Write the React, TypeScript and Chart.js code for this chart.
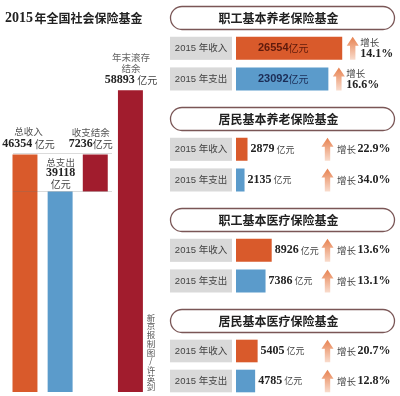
import React, { useEffect, useRef } from 'react';
import { Chart, registerables } from 'chart.js';

Chart.register(...registerables);

// ---------- data ----------
const mainTitleYear = '2015';
const mainTitleText = '年全国社会保险基金';
const leftCategories = ['总收入', '总支出', '收支结余', '年末滚存结余'];
const totalIncome = 46354;
const totalExpense = 39118;
const balance = 7236;
const yearEndBalance = 58893;
const creditText = ['新', '京', '报', '制', '图', '/', '许', '英', '剑'];

const panelTitles = ['职工基本养老保险基金', '居民基本养老保险基金', '职工基本医疗保险基金', '居民基本医疗保险基金'];
const rowLabels = ['2015 年收入', '2015 年支出'];
const panelIncome = [26554, 2879, 8926, 5405];
const panelExpense = [23092, 2135, 7386, 4785];
const incomeGrowth = [14.1, 22.9, 13.6, 20.7];
const expenseGrowth = [16.6, 34.0, 13.1, 12.8];
const unitText = '亿元';
const growthText = '增长';

// ---------- styles ----------
const ORANGE = '#d95a2b';
const BLUE = '#5b9bcb';
const DARK_RED = '#a11c2d';
const CJK = '"Noto Sans CJK SC", sans-serif';
const NUM_FONT = 'bold 12px "Liberation Serif", "DejaVu Serif", serif';

type Part = { text: string; font: string; color: string; gap?: number };

function drawParts(ctx: CanvasRenderingContext2D, parts: Part[], x: number, y: number, align: 'center' | 'left') {
  ctx.save();
  ctx.textBaseline = 'middle';
  ctx.textAlign = 'left';
  let total = 0;
  const widths = parts.map((p) => {
    ctx.font = p.font;
    const w = ctx.measureText(p.text).width + (p.gap || 0);
    total += w;
    return w;
  });
  let cx = align === 'center' ? x - total / 2 : x;
  parts.forEach((p, i) => {
    ctx.font = p.font;
    ctx.fillStyle = p.color;
    ctx.fillText(p.text, cx + (p.gap || 0), y);
    cx += widths[i];
  });
  ctx.restore();
  return total;
}

function drawArrow(ctx: CanvasRenderingContext2D, cx: number, top: number, bottom: number) {
  ctx.save();
  const g = ctx.createLinearGradient(0, top, 0, bottom);
  g.addColorStop(0, '#e7814f');
  g.addColorStop(1, '#f9dccd');
  ctx.fillStyle = g;
  ctx.beginPath();
  ctx.moveTo(cx, top);
  ctx.lineTo(cx + 6, top + 9);
  ctx.lineTo(cx + 2.7, top + 9);
  ctx.lineTo(cx + 2.7, bottom);
  ctx.lineTo(cx - 2.7, bottom);
  ctx.lineTo(cx - 2.7, top + 9);
  ctx.lineTo(cx - 6, top + 9);
  ctx.closePath();
  ctx.fill();
  ctx.restore();
}

const LABEL = `9.5px ${CJK}`;
const UNIT = `10px ${CJK}`;

const leftPlugin = {
  id: 'leftLabels',
  afterDatasetsDraw(chart: any) {
    const ctx: CanvasRenderingContext2D = chart.ctx;
    const ys = chart.scales.y;
    const meta = chart.getDatasetMeta(0);
    const xs = meta.data.map((el: any) => el.x);
    const tops = [
      ys.getPixelForValue(totalIncome),
      ys.getPixelForValue(totalExpense),
      ys.getPixelForValue(totalExpense + balance),
      ys.getPixelForValue(yearEndBalance),
    ];
    // title
    const tw = drawParts(ctx, [{ text: mainTitleYear, font: 'bold 14px "Liberation Serif", serif', color: '#222' }], 5, 18, 'left');
    drawParts(ctx, [{ text: mainTitleText, font: `bold 12px ${CJK}`, color: '#222' }], 5 + tw + 1.5, 18, 'left');

    // faint guide lines
    ctx.save();
    ctx.strokeStyle = 'rgba(110,110,110,0.25)';
    ctx.lineWidth = 1;
    [tops[0], tops[1]].forEach((t) => {
      ctx.beginPath();
      ctx.moveTo(13, Math.round(t) - 0.5);
      ctx.lineTo(112, Math.round(t) - 0.5);
      ctx.stroke();
    });
    ctx.restore();

    const lab = (t: string) => ({ text: t, font: LABEL, color: '#555' });
    const num = (t: string) => ({ text: t, font: NUM_FONT, color: '#222' });
    const unit = (t: string, gap = 0) => ({ text: t, font: UNIT, color: '#444', gap });

    // 总收入
    drawParts(ctx, [lab(leftCategories[0])], xs[0] + 3.5, tops[0] - 23.5, 'center');
    drawParts(ctx, [num(String(totalIncome)), unit(unitText, 2.5)], xs[0] + 3.5, tops[0] - 10.5, 'center');
    // 总支出
    drawParts(ctx, [lab(leftCategories[1])], xs[1] + 0.5, tops[1] - 29.6, 'center');
    drawParts(ctx, [num(String(totalExpense))], xs[1] + 0.5, tops[1] - 18.6, 'center');
    drawParts(ctx, [unit(unitText)], xs[1] + 0.5, tops[1] - 7.6, 'center');
    // 收支结余
    drawParts(ctx, [lab(leftCategories[2])], xs[2] - 4.5, tops[2] - 22.5, 'center');
    drawParts(ctx, [num(String(balance)), unit(unitText)], xs[2] - 4.5, tops[2] - 10.5, 'center');
    // 年末滚存结余
    drawParts(ctx, [{ text: leftCategories[3].slice(0, 4), font: LABEL, color: '#666' }], xs[3] + 0.6, tops[3] - 33, 'center');
    drawParts(ctx, [{ text: leftCategories[3].slice(4), font: LABEL, color: '#666' }], xs[3] + 0.6, tops[3] - 22, 'center');
    drawParts(ctx, [num(String(yearEndBalance)), unit(unitText, 2.5)], xs[3] + 0.6, tops[3] - 10, 'center');

    // credit (vertical)
    creditText.forEach((c, i) => {
      drawParts(ctx, [{ text: c, font: `8.5px ${CJK}`, color: '#555' }], 151, 317.5 + i * 8.7, 'center');
    });
  },
};

function LeftChart() {
  const ref = useRef<HTMLCanvasElement>(null);
  useEffect(() => {
    const chart = new Chart(ref.current as HTMLCanvasElement, {
      type: 'bar',
      data: {
        labels: leftCategories,
        datasets: [
          {
            data: [
              [0, totalIncome],
              [0, totalExpense],
              [totalExpense, totalExpense + balance],
              [0, yearEndBalance],
            ] as any,
            backgroundColor: [ORANGE, BLUE, DARK_RED, DARK_RED],
            barPercentage: 0.71,
            categoryPercentage: 1,
          },
        ],
      },
      options: {
        responsive: false,
        animation: false,
        layout: { padding: { left: 7.4, right: 12, top: 0, bottom: 4 } },
        scales: {
          x: { display: false },
          y: { display: false, min: 0, max: 76500 },
        },
        plugins: { legend: { display: false }, tooltip: { enabled: false }, title: { display: false } },
      },
      plugins: [leftPlugin],
    });
    return () => chart.destroy();
  }, []);
  return <canvas ref={ref} width={160} height={396} style={{ position: 'absolute', left: 0, top: 0, width: 160, height: 396 }} />;
}

function makePanelPlugin(index: number) {
  return {
    id: 'panel' + index,
    beforeDatasetsDraw(chart: any) {
      const ctx: CanvasRenderingContext2D = chart.ctx;
      const meta = chart.getDatasetMeta(0);
      // title box
      ctx.save();
      ctx.fillStyle = '#fff';
      ctx.strokeStyle = '#7a5656';
      ctx.lineWidth = 1.3;
      ctx.beginPath();
      (ctx as any).roundRect(10.5, 6.5, 224, 23, 11.5);
      ctx.fill();
      ctx.stroke();
      ctx.restore();
      drawParts(ctx, [{ text: panelTitles[index], font: `bold 12px ${CJK}`, color: '#222' }], 118.5, 18, 'center');
      // gray label boxes
      meta.data.forEach((el: any, i: number) => {
        const top = el.y - el.height / 2;
        ctx.save();
        ctx.fillStyle = '#d9d9d9';
        ctx.fillRect(10, top, 62, el.height);
        ctx.restore();
        drawParts(ctx, [{ text: rowLabels[i], font: `9.5px "Liberation Sans", ${CJK}`, color: '#444' }], 41, el.y, 'center');
      });
    },
    afterDatasetsDraw(chart: any) {
      const ctx: CanvasRenderingContext2D = chart.ctx;
      const meta = chart.getDatasetMeta(0);
      const values = [panelIncome[index], panelExpense[index]];
      const growth = [incomeGrowth[index], expenseGrowth[index]];
      meta.data.forEach((el: any, i: number) => {
        const top = el.y - el.height / 2;
        const bottom = el.y + el.height / 2;
        const end = el.x;
        if (index === 0) {
          const col = i === 0 ? '#5e1a0c' : '#1b2c55';
          drawParts(ctx, [
            { text: String(values[i]), font: `bold 11px "Liberation Sans", sans-serif`, color: col },
            { text: unitText, font: `10px ${CJK}`, color: col },
          ], 98, el.y, 'left');
          const ax = end + 10.5;
          drawArrow(ctx, ax, top, bottom);
          drawParts(ctx, [{ text: growthText, font: `9.5px ${CJK}`, color: '#444' }], ax + 7.5, top + 5.5, 'left');
          drawParts(ctx, [{ text: growth[i].toFixed(1) + '%', font: NUM_FONT, color: '#222' }], ax + 7.5, top + 17.5, 'left');
        } else {
          drawParts(ctx, [
            { text: String(values[i]), font: NUM_FONT, color: '#222' },
            { text: unitText, font: `9px ${CJK}`, color: '#444', gap: 2 },
          ], end + 3, el.y, 'left');
          const ax = 167.5;
          drawArrow(ctx, ax, top, bottom);
          drawParts(ctx, [
            { text: growthText, font: `9.5px ${CJK}`, color: '#444' },
            { text: growth[i].toFixed(1) + '%', font: NUM_FONT, color: '#222', gap: 1.5 },
          ], ax + 9.5, el.y, 'left');
        }
      });
    },
  };
}

function Panel({ index, top, height }: { index: number; top: number; height: number }) {
  const ref = useRef<HTMLCanvasElement>(null);
  useEffect(() => {
    const chart = new Chart(ref.current as HTMLCanvasElement, {
      type: 'bar',
      data: {
        labels: rowLabels,
        datasets: [
          {
            data: [panelIncome[index], panelExpense[index]],
            backgroundColor: [ORANGE, BLUE],
            barPercentage: 0.754,
            categoryPercentage: 1,
          },
        ],
      },
      options: {
        indexAxis: 'y',
        responsive: false,
        animation: false,
        layout: { padding: { left: 76, right: 4, top: 33, bottom: height - 94.25 } },
        scales: {
          x: { display: false, min: 0, max: 40000 },
          y: { display: false },
        },
        plugins: { legend: { display: false }, tooltip: { enabled: false } },
      },
      plugins: [makePanelPlugin(index)],
    });
    return () => chart.destroy();
  }, [index, height]);
  return <canvas ref={ref} width={240} height={height} style={{ position: 'absolute', left: 160, top, width: 240, height }} />;
}

const panelTops = [0, 101, 202, 303];

export default function App() {
  useEffect(() => {
    document.body.style.margin = '0';
  }, []);
  return (
    <div style={{ position: 'relative', width: 400, height: 396, background: '#fff', overflow: 'hidden' }}>
      <LeftChart />
      {panelTops.map((t, i) => (
        <Panel key={i} index={i} top={t} height={i === 3 ? 93 : 100} />
      ))}
    </div>
  );
}
